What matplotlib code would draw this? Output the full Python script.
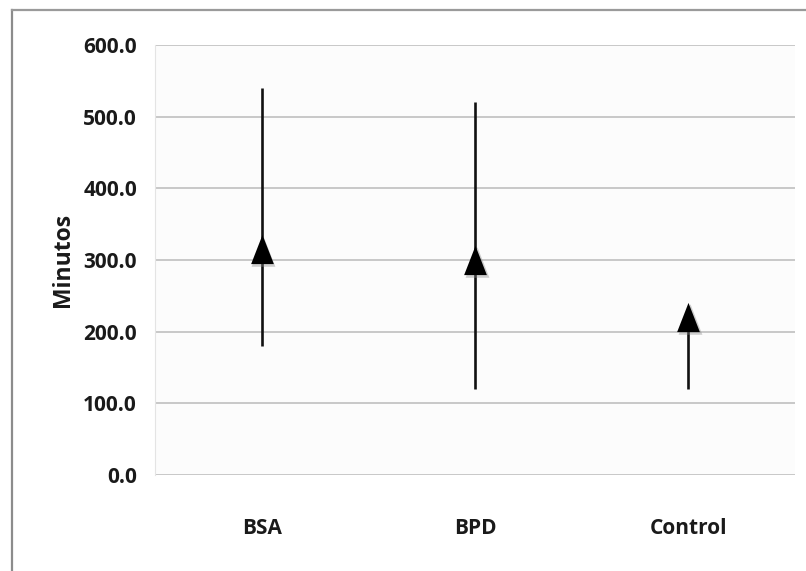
import matplotlib
matplotlib.use("Agg")
import matplotlib.pyplot as plt
from matplotlib.lines import Line2D

# Data: minutes per group
groups = ["BSA", "BPD", "Control"]
minimos = [180, 120, 120]
maximos = [540, 520, 230]
medias = [315, 300, 220]
yticks = [0, 100, 200, 300, 400, 500, 600]

FONT = ["Open Sans", "DejaVu Sans"]

W, H = 806, 571
fig = plt.figure(figsize=(W / 100, H / 100), dpi=100)
fig.patch.set_facecolor("white")

# outer chart frame (left and top edges)
fig.add_artist(Line2D([12 / W, 12 / W], [0, 1 - 10 / H], color="#8c8c8c", lw=1.6,
                      transform=fig.transFigure))
fig.add_artist(Line2D([12 / W, 1], [1 - 10 / H, 1 - 10 / H], color="#9a9a9a", lw=1.6,
                      transform=fig.transFigure))

left, right, top, bottom = 155, 795, 45, 475
ax = fig.add_axes([left / W, 1 - bottom / H, (right - left) / W, (bottom - top) / H])
ax.set_facecolor("#fcfcfc")

x = list(range(len(groups)))
ax.set_xlim(-0.5, len(groups) - 0.5)
ax.set_ylim(0, 600)

ax.set_yticks(yticks)
ax.set_yticklabels([f"{v:.1f}" for v in yticks])
ax.set_xticks(x)
ax.set_xticklabels(groups)

ax.grid(axis="y", color="#c4c4c4", lw=1.3)
ax.set_axisbelow(True)
for s in ax.spines.values():
    s.set_visible(False)
ax.spines["left"].set_visible(True)
ax.spines["left"].set_color("#e4e4e4")
ax.tick_params(length=0, labelsize=15)
ax.tick_params(axis="y", pad=13)
ax.tick_params(axis="x", pad=31)
for lbl in ax.get_xticklabels() + ax.get_yticklabels():
    lbl.set_fontfamily(FONT)
    lbl.set_fontweight("bold")
    lbl.set_color("#1a1a1a")

ax.set_ylabel("Minutos", fontsize=16.5, fontfamily=FONT, fontweight="bold",
              color="#1a1a1a", labelpad=6)

# range lines
ax.vlines(x, minimos, maximos, color="#111111", lw=1.9, zorder=3)

# mean markers: slightly tall triangle with a soft shadow
tri = [(-0.78, -1), (0.78, -1), (0, 1), (-0.78, -1)]
ax.plot([xi + 0.008 for xi in x], [m - 3 for m in medias], linestyle="none",
        marker=tri, ms=22, color="#888888", alpha=0.4, mew=0, zorder=3.5)
ax.plot(x, medias, linestyle="none", marker=tri, ms=21, color="black", mew=0, zorder=4)

fig.savefig("out.png", dpi=100, facecolor="white")
